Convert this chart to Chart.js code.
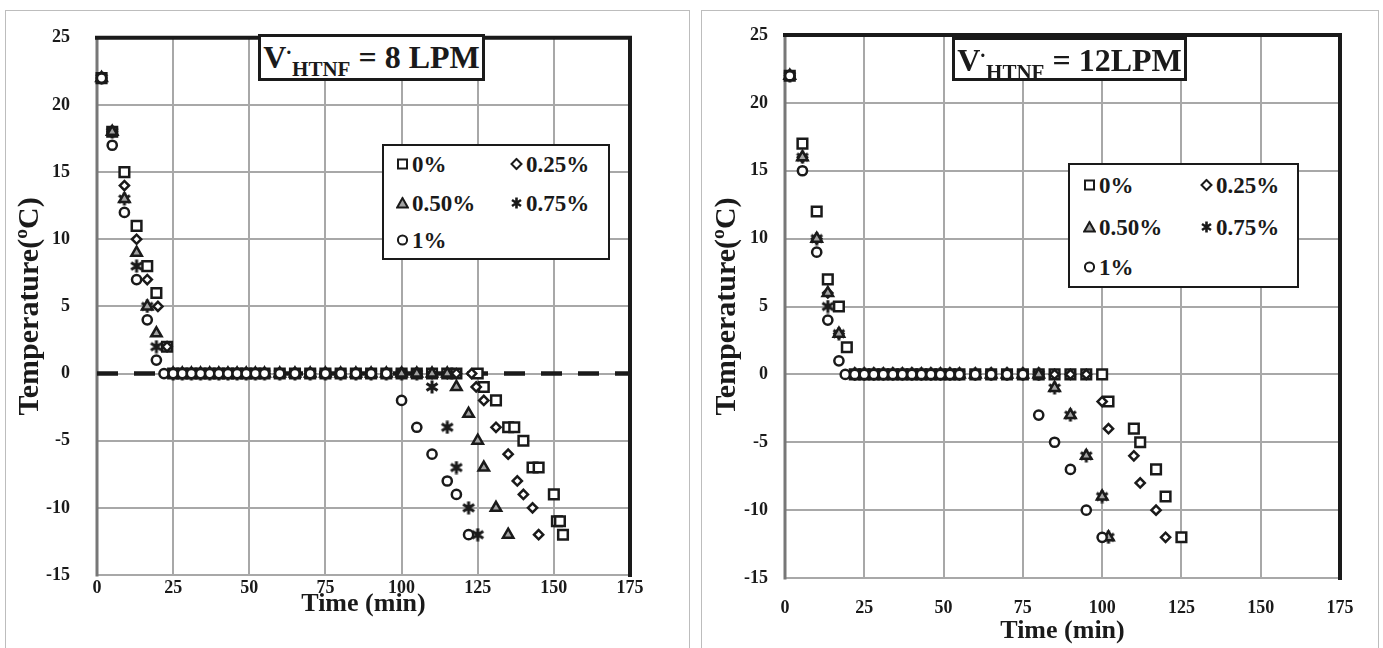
<!DOCTYPE html>
<html>
<head>
<meta charset="utf-8">
<script src="https://cdn.jsdelivr.net/npm/chart.js@4.4.0/dist/chart.umd.min.js"></script>
<style>
  body { margin: 0; background: #fff; width: 1383px; height: 648px; position: relative; overflow: hidden;
         font-family: 'Liberation Serif', 'Times New Roman', serif; color: #1a1a1a; }
  .panel { position: absolute; border: 1.5px solid #bdbdbd; box-sizing: border-box; }
  canvas { position: absolute; top: 0; }
  .tag { position: absolute; box-sizing: border-box; border: 3px solid #1a1a1a; background: #fff;
         font-weight: bold; font-size: 32px; line-height: 1; text-align: center; white-space: nowrap; padding-top: 4px; }
  .tag sub { font-size: 21px; vertical-align: -8px; line-height: 0; }
  .tag .vd { font-size: 20px; vertical-align: 9px; line-height: 0; margin-left: -1px; }
  .legend { position: absolute; box-sizing: border-box; border: 2.5px solid #1a1a1a; background: #fff; }
  .item { position: absolute; display: flex; align-items: center; font-weight: bold; font-size: 23px; line-height: 1;
          transform: translateY(-50%); white-space: nowrap; }
  .item svg { margin-right: 3px; }
</style>
</head>
<body>
<div class="panel" style="left:5px;top:10px;width:685px;height:640px"></div>
<div class="panel" style="left:701px;top:10px;width:678px;height:640px"></div>
<canvas id="left" width="695" height="648" style="left:0"></canvas>
<canvas id="right" width="688" height="648" style="left:695px"></canvas>

<div class="tag" style="left:258px;top:34px;width:227px;height:47px">V<span class="vd">·</span><sub>HTNF</sub> = 8 LPM</div>
<div class="tag" style="left:952px;top:37px;width:235px;height:44px">V<span class="vd">·</span><sub>HTNF</sub> = 12LPM</div>

<div class="legend" id="legLeft" style="left:382px;top:144px;width:228px;height:116px"></div>
<div class="legend" id="legRight" style="left:1068px;top:163px;width:231px;height:125px"></div>

<script>
// time (min) and temperature (ºC) for each concentration, 8 LPM
const tLeft0 = [1.5, 5, 9, 13, 16.5, 19.5, 23, 25, 28, 31, 34, 37, 40, 43, 46, 49, 52, 55, 60, 65, 70, 75, 80, 85, 90, 95, 100, 105, 110, 115, 118, 125, 127, 131, 135, 137, 140, 143, 145, 150, 151, 152, 153];
const vLeft0 = [22, 18, 15, 11, 8, 6, 2, 0, 0, 0, 0, 0, 0, 0, 0, 0, 0, 0, 0, 0, 0, 0, 0, 0, 0, 0, 0, 0, 0, 0, 0, 0, -1, -2, -4, -4, -5, -7, -7, -9, -11, -11, -12];
const tLeft25 = [1.5, 5, 9, 13, 16.5, 20, 23, 25, 28, 31, 34, 37, 40, 43, 46, 49, 52, 55, 60, 65, 70, 75, 80, 85, 90, 95, 100, 105, 110, 115, 118, 123, 124.5, 127, 131, 135, 138, 140, 143, 145];
const vLeft25 = [22, 18, 14, 10, 7, 5, 2, 0, 0, 0, 0, 0, 0, 0, 0, 0, 0, 0, 0, 0, 0, 0, 0, 0, 0, 0, 0, 0, 0, 0, 0, 0, -1, -2, -4, -6, -8, -9, -10, -12];
const tLeft50 = [1.5, 5, 9, 13, 16.5, 19.5, 25, 28, 31, 34, 37, 40, 43, 46, 49, 52, 55, 60, 65, 70, 75, 80, 85, 90, 95, 100, 105, 110, 115, 118, 122, 125, 127, 131, 135];
const vLeft50 = [22, 18, 13, 9, 5, 3, 0, 0, 0, 0, 0, 0, 0, 0, 0, 0, 0, 0, 0, 0, 0, 0, 0, 0, 0, 0, 0, 0, 0, -1, -3, -5, -7, -10, -12];
const tLeft75 = [1.5, 5, 9, 13, 16.5, 19.5, 25, 28, 31, 34, 37, 40, 43, 46, 49, 52, 55, 60, 65, 70, 75, 80, 85, 90, 95, 100, 105, 110, 115, 118, 122, 125];
const vLeft75 = [22, 18, 13, 8, 5, 2, 0, 0, 0, 0, 0, 0, 0, 0, 0, 0, 0, 0, 0, 0, 0, 0, 0, 0, 0, 0, 0, -1, -4, -7, -10, -12];
const tLeft100 = [1.5, 5, 9, 13, 16.5, 19.5, 22, 25, 28, 31, 34, 37, 40, 43, 46, 49, 52, 55, 60, 65, 70, 75, 80, 85, 90, 95, 100, 105, 110, 115, 118, 122];
const vLeft100 = [22, 17, 12, 7, 4, 1, 0, 0, 0, 0, 0, 0, 0, 0, 0, 0, 0, 0, 0, 0, 0, 0, 0, 0, 0, 0, -2, -4, -6, -8, -9, -12];

// same at 12 LPM
const tRight0 = [1.5, 5.5, 10, 13.5, 17, 19.5, 22, 25, 28, 31, 34, 37, 40, 43, 46, 49, 52, 55, 60, 65, 70, 75, 80, 85, 90, 95, 100, 102, 110, 112, 117, 120, 125];
const vRight0 = [22, 17, 12, 7, 5, 2, 0, 0, 0, 0, 0, 0, 0, 0, 0, 0, 0, 0, 0, 0, 0, 0, 0, 0, 0, 0, 0, -2, -4, -5, -7, -9, -12];
const tRight25 = [1.5, 5.5, 10, 13.5, 17, 22, 25, 28, 31, 34, 37, 40, 43, 46, 49, 52, 55, 60, 65, 70, 75, 80, 85, 90, 95, 100, 102, 110, 112, 117, 120];
const vRight25 = [22, 16, 10, 6, 3, 0, 0, 0, 0, 0, 0, 0, 0, 0, 0, 0, 0, 0, 0, 0, 0, 0, 0, 0, 0, -2, -4, -6, -8, -10, -12];
const tRight50 = [1.5, 5.5, 10, 13.5, 17, 22, 25, 28, 31, 34, 37, 40, 43, 46, 49, 52, 55, 60, 65, 70, 75, 80, 85, 90, 95, 100, 102];
const vRight50 = [22, 16, 10, 6, 3, 0, 0, 0, 0, 0, 0, 0, 0, 0, 0, 0, 0, 0, 0, 0, 0, 0, -1, -3, -6, -9, -12];
const tRight75 = [1.5, 5.5, 10, 13.5, 17, 22, 25, 28, 31, 34, 37, 40, 43, 46, 49, 52, 55, 60, 65, 70, 75, 80, 85, 90, 95, 100, 102];
const vRight75 = [22, 16, 10, 5, 3, 0, 0, 0, 0, 0, 0, 0, 0, 0, 0, 0, 0, 0, 0, 0, 0, 0, -1, -3, -6, -9, -12];
const tRight100 = [1.5, 5.5, 10, 13.5, 17, 19, 22, 25, 28, 31, 34, 37, 40, 43, 46, 49, 52, 55, 60, 65, 70, 75, 80, 85, 90, 95, 100];
const vRight100 = [22, 15, 9, 4, 1, 0, 0, 0, 0, 0, 0, 0, 0, 0, 0, 0, 0, 0, 0, 0, 0, 0, -3, -5, -7, -10, -12];

const seriesLabels = ['0%', '0.25%', '0.50%', '0.75%', '1%'];
const zeroLineX = [0, 175];

const serif = "'Liberation Serif', 'Times New Roman', serif";
const ink = '#1a1a1a';

// six-armed asterisk for the 0.75% series (chart.js 'star' has eight arms)
function asterisk() {
  const c = document.createElement('canvas');
  c.width = 14; c.height = 14;
  const g = c.getContext('2d');
  g.strokeStyle = ink;
  g.lineWidth = 3;
  g.lineCap = 'butt';
  g.beginPath();
  g.moveTo(7, 0.5); g.lineTo(7, 13.5);
  g.moveTo(1.5, 3.5); g.lineTo(12.5, 10.5);
  g.moveTo(1.5, 10.5); g.lineTo(12.5, 3.5);
  g.stroke();
  return c;
}

// marker look per concentration, drawing order keeps circles on top
const markers = [
  { pointStyle: 'rect',     pointRadius: 6.8, pointBackgroundColor: '#fff',    pointBorderWidth: 2.5, order: 4 },
  { pointStyle: 'rectRot',  pointRadius: 4.6, pointBackgroundColor: '#fff',    pointBorderWidth: 2.5, order: 2 },
  { pointStyle: 'triangle', pointRadius: 6,   pointBackgroundColor: '#a3a3a3', pointBorderWidth: 2.5, order: 1 },
  { pointStyle: asterisk(), pointRadius: 6,   pointBackgroundColor: ink,       pointBorderWidth: 3,   order: 3 },
  { pointStyle: 'circle',   pointRadius: 4.6, pointBackgroundColor: '#fff',    pointBorderWidth: 2.5, order: 0 }
];

function pts(t, v) {
  return t.map((x, i) => ({ x: x, y: v[i] }));
}

// plot frame: black top/right, dark grey left axis
const frame = {
  id: 'frame',
  beforeDatasetsDraw(chart) {
    const { ctx, chartArea: a } = chart;
    ctx.save();
    ctx.lineCap = 'square';
    ctx.strokeStyle = '#777';
    ctx.lineWidth = 3;
    ctx.beginPath();
    ctx.moveTo(a.left, a.top);
    ctx.lineTo(a.left, a.bottom);
    ctx.stroke();
    ctx.strokeStyle = ink;
    ctx.lineWidth = 4;
    ctx.beginPath();
    ctx.moveTo(a.left, a.top);
    ctx.lineTo(a.right, a.top);
    ctx.lineTo(a.right, a.bottom);
    ctx.stroke();
    ctx.restore();
  }
};

function makeChart(id, series, geo, dashedZero) {
  const datasets = series.map((s, i) => Object.assign({
    label: seriesLabels[i],
    data: pts(s[0], s[1]),
    showLine: false,
    borderColor: ink,
    pointBorderColor: ink,
    clip: false
  }, markers[i]));

  if (dashedZero) {
    datasets.push({
      label: 'zero',
      data: zeroLineX.map(x => ({ x: x, y: 0 })),
      showLine: true,
      pointRadius: 0,
      borderColor: ink,
      borderWidth: 4.5,
      borderDash: [21, 16],
      order: 9
    });
  }

  return new Chart(document.getElementById(id), {
    type: 'scatter',
    data: { datasets },
    plugins: [frame],
    options: {
      responsive: false,
      animation: false,
      events: [],
      layout: { padding: { left: 0, top: geo.top, right: geo.right, bottom: 0 } },
      plugins: { legend: { display: false }, tooltip: { enabled: false } },
      scales: {
        x: {
          type: 'linear', min: 0, max: 175,
          afterFit: s => { s.height = geo.xHeight; },
          ticks: { stepSize: 25, padding: geo.xTickPad, color: ink, font: { family: serif, size: 18, weight: 'bold' } },
          grid: { color: '#a8a8a8', lineWidth: 2, drawTicks: false },
          border: { display: false },
          title: { display: true, text: 'Time (min)', color: ink,
                   font: { family: serif, size: 26, weight: 'bold', lineHeight: 1.2 },
                   padding: { top: 0, bottom: geo.xTitlePad } }
        },
        y: {
          type: 'linear', min: -15, max: 25,
          afterFit: s => { s.width = geo.yWidth; },
          ticks: { stepSize: 5, padding: geo.yTickPad, color: ink, font: { family: serif, size: 18, weight: 'bold' } },
          grid: { color: '#a8a8a8', lineWidth: 2, drawTicks: false },
          border: { display: false },
          title: { display: true, text: 'Temperature(ºC)', color: ink,
                   font: { family: serif, size: 30, weight: 'bold', lineHeight: 1.2 },
                   padding: { top: geo.yTitlePad, bottom: 0 } }
        }
      }
    }
  });
}

makeChart('left', [
  [tLeft0, vLeft0], [tLeft25, vLeft25], [tLeft50, vLeft50], [tLeft75, vLeft75], [tLeft100, vLeft100]
], { top: 25, right: 65, yWidth: 97, xHeight: 73, xTickPad: 3, xTitlePad: 28, yTickPad: 27, yTitlePad: 12 }, true);

makeChart('right', [
  [tRight0, vRight0], [tRight25, vRight25], [tRight50, vRight50], [tRight75, vRight75], [tRight100, vRight100]
], { top: 35, right: 43, yWidth: 90, xHeight: 70, xTickPad: 20, xTitlePad: 1, yTickPad: 17, yTitlePad: 14 }, false);

// legend boxes
const icons = [
  '<rect x="2" y="2" width="9" height="9" fill="#fff" stroke="#1a1a1a" stroke-width="2"/>',
  '<polygon points="6.5,1.5 11.5,6.5 6.5,11.5 1.5,6.5" fill="#fff" stroke="#1a1a1a" stroke-width="2"/>',
  '<polygon points="6.5,1.5 11.8,11 1.2,11" fill="#a3a3a3" stroke="#1a1a1a" stroke-width="2"/>',
  '<path d="M6.5 1V12M2 3.5L11 9.5M2 9.5L11 3.5" stroke="#1a1a1a" stroke-width="2.6"/>',
  '<circle cx="6.5" cy="6.5" r="4.6" fill="#fff" stroke="#1a1a1a" stroke-width="2"/>'
];

function fillLegend(id, cols, rows) {
  const box = document.getElementById(id);
  seriesLabels.forEach((lab, i) => {
    const el = document.createElement('div');
    el.className = 'item';
    el.style.left = cols[i % 2] + 'px';
    el.style.top = rows[Math.floor(i / 2)] + 'px';
    el.innerHTML = '<svg width="13" height="13" viewBox="0 0 13 13">' + icons[i] + '</svg>' + lab;
    box.appendChild(el);
  });
}

fillLegend('legLeft', [12, 126], [18, 57, 94]);
fillLegend('legRight', [13, 130], [20, 62, 102]);
</script>
</body>
</html>
